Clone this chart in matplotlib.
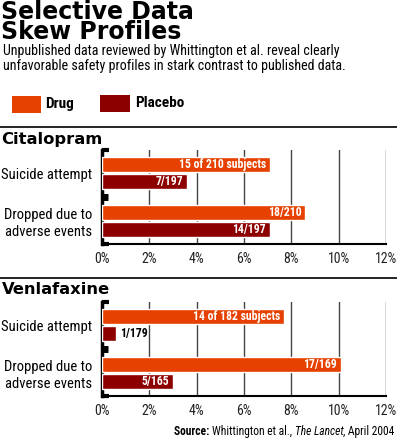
import matplotlib
matplotlib.use("Agg")
import matplotlib.pyplot as plt
from matplotlib import font_manager
from matplotlib.patches import Rectangle
from matplotlib.lines import Line2D

# ---- data (percent of subjects) ----
outcomes = ["Suicide attempt", "Dropped due to\nadverse events"]

cit_drug = [7.1, 8.6]
cit_placebo = [3.6, 7.1]
cit_drug_lbl = ["15 of 210 subjects", "18/210"]
cit_placebo_lbl = ["7/197", "14/197"]

ven_drug = [7.7, 10.1]
ven_placebo = [0.6, 3.0]
ven_drug_lbl = ["14 of 182 subjects", "17/169"]
ven_placebo_lbl = ["1/179", "5/165"]

xticks = [0, 2, 4, 6, 8, 10, 12]

DRUG = "#e64100"
PLACEBO = "#8c0000"

# pick a narrow face if the box has one
available = {f.name for f in font_manager.fontManager.ttflist}
narrow = next((n for n in ["Liberation Sans Narrow", "Roboto Condensed",
                           "DejaVu Sans Condensed", "Liberation Sans"]
               if n in available), "DejaVu Sans")
heavy = "DejaVu Sans"

fig = plt.figure(figsize=(3.97, 4.40), dpi=100)


def panel(rect, drug, placebo, drug_lbl, placebo_lbl):
    ax = fig.add_axes(rect)
    ypos = [1, 0]
    h = 0.32
    off = 0.175
    ax.barh([y + off for y in ypos], drug, height=h, color=DRUG,
            edgecolor="white", linewidth=1, zorder=3)
    ax.barh([y - off for y in ypos], placebo, height=h, color=PLACEBO,
            edgecolor="white", linewidth=1, zorder=3)
    for y, v, t in zip(ypos, drug, drug_lbl):
        ax.annotate(t, (v, y + off), xytext=(-3, 0), textcoords="offset points",
                    ha="right", va="center", color="white", fontsize=8.5,
                    fontweight="bold", family=narrow, zorder=4)
    for y, v, t in zip(ypos, placebo, placebo_lbl):
        if v > 2:
            ax.annotate(t, (v, y - off), xytext=(-3, 0), textcoords="offset points",
                        ha="right", va="center", color="white", fontsize=8.5,
                        fontweight="bold", family=narrow, zorder=4)
        else:
            ax.annotate(t, (v, y - off), xytext=(3, 0), textcoords="offset points",
                        ha="left", va="center", color="black", fontsize=8.5,
                        fontweight="bold", family=narrow, zorder=4)

    ax.set_xlim(0, 12)
    ax.set_ylim(-0.48, 1.48)
    ax.set_xticks(xticks)
    ax.set_xticklabels([f"{t}%" for t in xticks], family=narrow, fontsize=10,
                       color="#222222")
    ax.tick_params(axis="x", length=0, pad=6)
    ax.set_yticks(ypos)
    ax.set_yticklabels(outcomes, family=narrow, fontsize=10.5, ha="right")
    ax.tick_params(axis="y", length=0, pad=7)
    ax.xaxis.grid(True, color="#444444", linewidth=1)
    ax.set_axisbelow(True)
    for s in ["top", "right"]:
        ax.spines[s].set_visible(False)
    ax.spines["left"].set_linewidth(2.5)
    ax.spines["bottom"].set_linewidth(1.5)
    # bracket stubs on the left spine
    ax.plot([0, 0.025], [1, 1], transform=ax.transAxes, color="k", lw=3,
            clip_on=False, solid_capstyle="butt")
    ax.plot([0, 0.025], [0, 0], transform=ax.transAxes, color="k", lw=3,
            clip_on=False, solid_capstyle="butt")
    ax.plot([0, 0.02], [0.5, 0.5], transform=ax.transAxes, color="k", lw=5,
            clip_on=False, solid_capstyle="butt")
    return ax


panel([0.257, 0.4455, 0.715, 0.2136], cit_drug, cit_placebo,
      cit_drug_lbl, cit_placebo_lbl)
panel([0.257, 0.100, 0.715, 0.2136], ven_drug, ven_placebo,
      ven_drug_lbl, ven_placebo_lbl)

# title + subtitle
fig.text(0.003, 0.999, "Selective Data\nSkew Profiles", family=heavy,
         fontweight="heavy", fontsize=17, va="top", linespacing=0.78)
fig.text(0.008, 0.875, "Unpublished data reviewed by Whittington et al. reveal clearly",
         family=narrow, fontsize=10.1, va="baseline")
fig.text(0.008, 0.841, "unfavorable safety profiles in stark contrast to published data.",
         family=narrow, fontsize=10.1, va="baseline")

# legend
fig.add_artist(Rectangle((0.030, 0.743), 0.073, 0.0386, transform=fig.transFigure,
                         facecolor=DRUG, edgecolor="none"))
fig.text(0.113, 0.7636, "Drug", family=narrow, fontweight="bold", fontsize=11,
         va="center")
fig.add_artist(Rectangle((0.252, 0.745), 0.0756, 0.0386, transform=fig.transFigure,
                         facecolor=PLACEBO, edgecolor="none"))
fig.text(0.340, 0.7659, "Placebo", family=narrow, fontweight="bold", fontsize=11,
         va="center")

# section rules and headings
for y in [0.7114, 0.368]:
    fig.add_artist(Line2D([0, 1], [y, y], transform=fig.transFigure,
                          color="black", lw=1.2))
fig.text(0.004, 0.684, "Citalopram", family=heavy, fontweight="heavy",
         fontsize=11.8, va="center")
fig.text(0.004, 0.343, "Venlafaxine", family=heavy, fontweight="heavy",
         fontsize=11.8, va="center")

# source line, built right to left on a shared baseline
src_y = 0.0114
t4 = fig.text(0.994, src_y, ", April 2004", family=narrow, fontsize=8.3,
              ha="right", va="baseline")
t3 = fig.text(0, src_y, "The Lancet", family=narrow, fontsize=8.3, style="italic",
              ha="right", va="baseline")
t2 = fig.text(0, src_y, "Whittington et al., ", family=narrow, fontsize=8.3,
              ha="right", va="baseline")
t1 = fig.text(0, src_y, "Source: ", family=narrow, fontsize=8.3, fontweight="bold",
              ha="right", va="baseline")
fig.canvas.draw()
r = fig.canvas.get_renderer()
prev = t4
for t in [t3, t2, t1]:
    bb = prev.get_window_extent(r).transformed(fig.transFigure.inverted())
    t.set_x(bb.x0)
    fig.canvas.draw()
    prev = t

fig.savefig("out.png", dpi=100)
